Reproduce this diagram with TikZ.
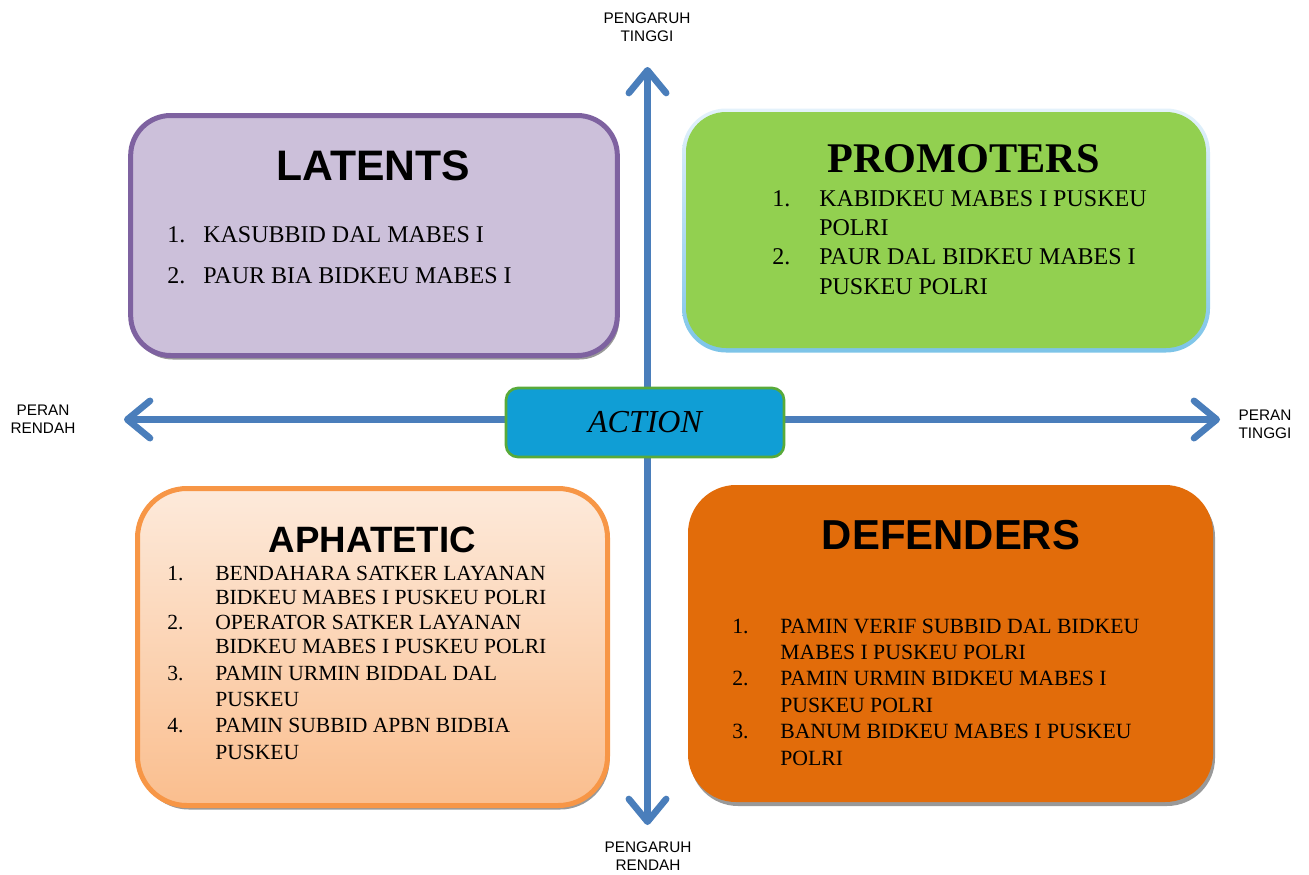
\documentclass[tikz,border=0pt]{standalone}
\usepackage{fontspec}
\setmainfont{Liberation Serif}
\newfontfamily\arial{Liberation Sans}
\usetikzlibrary{arrows.meta,shadows}

\definecolor{axisblue}{RGB}{74,126,187}
\definecolor{latfill}{RGB}{204,192,218}
\definecolor{latline}{RGB}{126,98,160}
\definecolor{profill}{RGB}{146,208,80}
\definecolor{glowtop}{RGB}{228,242,251}
\definecolor{glowbot}{RGB}{124,196,232}
\definecolor{aphtop}{RGB}{253,234,219}
\definecolor{aphbot}{RGB}{250,190,142}
\definecolor{aphline}{RGB}{247,150,70}
\definecolor{deffill}{RGB}{226,108,10}
\definecolor{actfill}{RGB}{16,158,213}
\definecolor{actline}{RGB}{88,170,58}

\tikzset{
  quad/.style={rectangle, inner sep=0pt},
  boxshadow/.style={drop shadow={shadow xshift=1.5pt, shadow yshift=-3pt, fill=black!40, opacity=1}},
  heading/.style={inner sep=0pt, font=\arial\bfseries\fontsize{#1}{#1}\selectfont},
  items/.style={anchor=base west, inner sep=0pt},
  axislabel/.style={inner sep=0pt, align=center, font=\arial\fontsize{11.5}{13.5}\selectfont},
  axis/.style={line width=5pt, draw=axisblue, line cap=round,
    {Straight Barb[length=17pt, width=28pt, round]}-{Straight Barb[length=17pt, width=28pt, round]}}
}

\begin{document}
\begin{tikzpicture}[x=0.75pt, y=-0.75pt]
  \useasboundingbox (0,0) rectangle (1309,874);

  % axes
  \coordinate (left) at (124,419.5);
  \coordinate (right) at (1220,419.5);
  \coordinate (top) at (647.5,67);
  \coordinate (bottom) at (647.5,825);
  \draw [axis] (left) -- (right);
  \draw [axis] (bottom) -- (top);

  \node [axislabel] (hightop) at (647,27.5) {PENGARUH\\TINGGI};
  \node [axislabel] (lowbot) at (648,856.5) {PENGARUH\\RENDAH};
  \node [axislabel] (lowleft) at (43,419.5) {PERAN\\RENDAH};
  \node [axislabel] (highright) at (1265,424.5) {PERAN\\TINGGI};

  % latents
  \node [quad, boxshadow, draw=latline, line width=3.75pt, fill=latfill, rounded corners=30pt,
    minimum width=365pt, minimum height=180pt] (latents) at (374,235.5) {};
  \node [heading=32] (lattitle) at (373.5,166) {LATENTS};
  \node [items, font=\fontsize{18}{30.75}\selectfont] (latlist) at (167,242)
    {\begin{tabular}[t]{@{}p{27pt}@{}l@{}}
      1. & KASUBBID DAL MABES I\\
      2. & PAUR BIA BIDKEU MABES I
    \end{tabular}};

  % promoters
  \node [quad, top color=glowtop, bottom color=glowbot, rounded corners=33pt,
    minimum width=396pt, minimum height=183pt] (proglow) at (946,230.5) {};
  \node [quad, fill=profill, rounded corners=30pt,
    minimum width=390pt, minimum height=177pt] (promoters) at (946,230) {};
  \node [inner sep=0pt, font=\bfseries\fontsize{31.7}{32}\selectfont] (protitle) at (963.5,159) {PROMOTERS};
  \node [items, font=\fontsize{18}{22}\selectfont] (prolist) at (772,206)
    {\begin{tabular}[t]{@{}p{35.25pt}@{}l@{}}
      1. & KABIDKEU MABES I PUSKEU\\
         & POLRI\\
      2. & PAUR DAL BIDKEU MABES I\\
         & PUSKEU POLRI
    \end{tabular}};

  % aphatetic
  \node [quad, boxshadow, draw=aphline, line width=3.75pt, top color=aphtop, bottom color=aphbot,
    rounded corners=37pt, minimum width=352.5pt, minimum height=237.75pt] (aphatetic) at (372.5,647) {};
  \node [heading=27.5] (aphtitle) at (372.5,539.5) {APHATETIC};
  \node [items, font=\fontsize{16.2}{18.4}\selectfont] (aphlist) at (167,580)
    {\begin{tabular}[t]{@{}p{36pt}@{}l@{}}
      1. & BENDAHARA SATKER LAYANAN\\
         & BIDKEU MABES I PUSKEU POLRI\\
      2. & OPERATOR SATKER LAYANAN\\
         & BIDKEU MABES I PUSKEU POLRI\\[1.4pt]
      3. & PAMIN URMIN BIDDAL DAL\\[1.4pt]
         & PUSKEU\\[1.4pt]
      4. & PAMIN SUBBID APBN BIDBIA\\[1.4pt]
         & PUSKEU
    \end{tabular}};

  % defenders
  \node [quad, boxshadow, fill=deffill, rounded corners=36pt,
    minimum width=393.75pt, minimum height=237.75pt] (defenders) at (950.5,643.5) {};
  \node [heading=31.4] (deftitle) at (951,535) {DEFENDERS};
  \node [items, font=\fontsize{16.3}{19.8}\selectfont] (deflist) at (732,633)
    {\begin{tabular}[t]{@{}p{36pt}@{}l@{}}
      1. & PAMIN VERIF SUBBID DAL BIDKEU\\
         & MABES I PUSKEU POLRI\\
      2. & PAMIN URMIN BIDKEU MABES I\\
         & PUSKEU POLRI\\
      3. & BANUM BIDKEU MABES I PUSKEU\\
         & POLRI
    \end{tabular}};

  % centre
  \node [quad, draw=actline, line width=2pt, fill=actfill, rounded corners=9pt,
    minimum width=208.5pt, minimum height=51.75pt,
    font=\itshape\fontsize{24}{28}\selectfont] (action) at (645,422.5) {ACTION};
\end{tikzpicture}
\end{document}
